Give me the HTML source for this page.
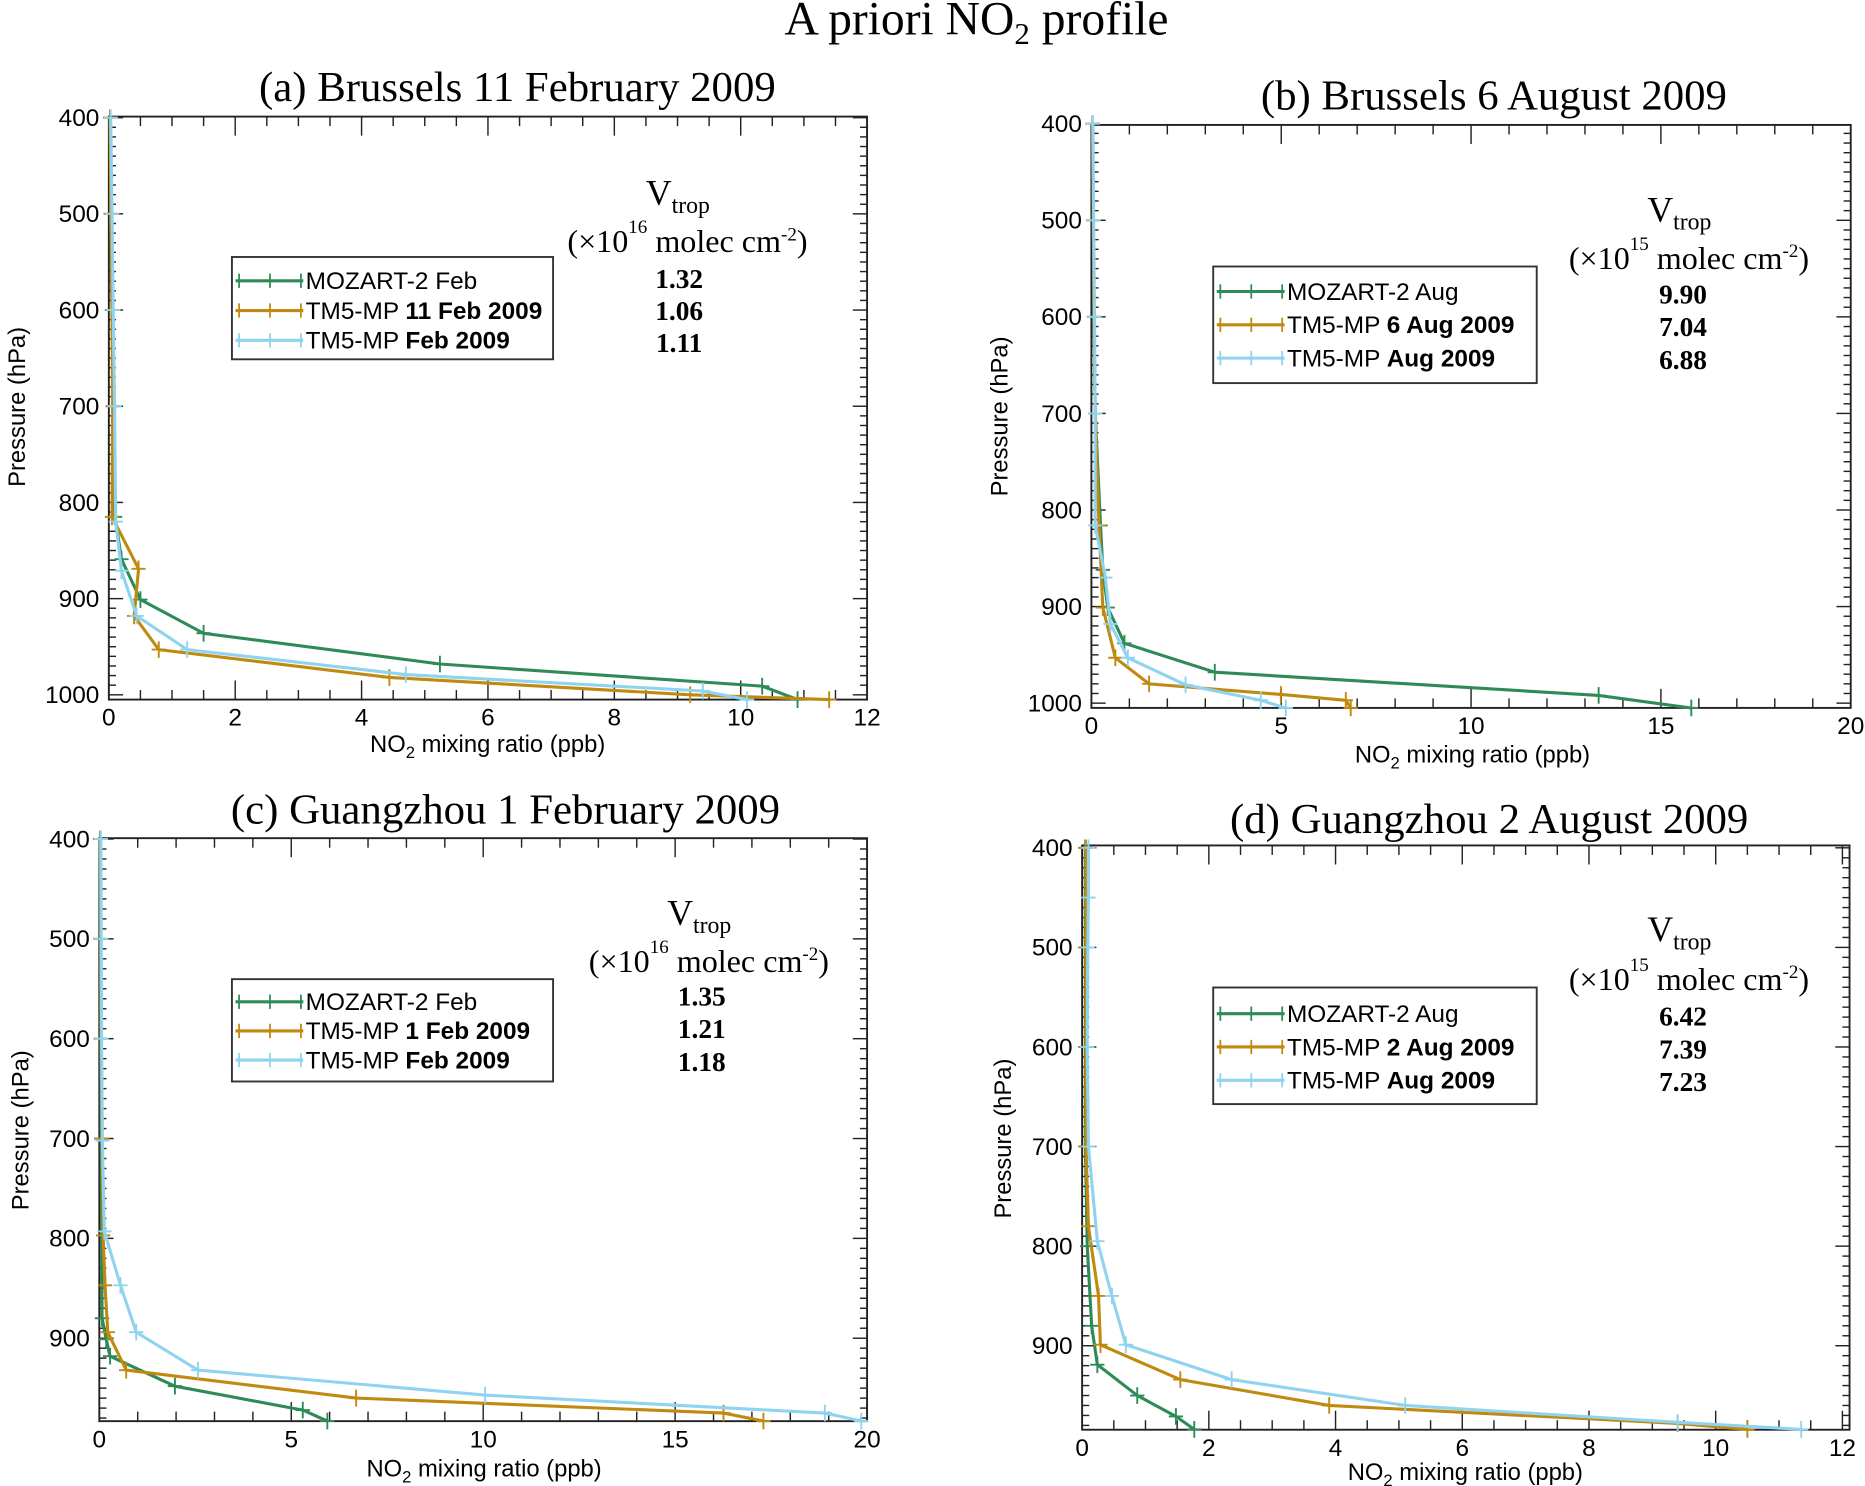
<!DOCTYPE html>
<html><head><meta charset="utf-8"><style>
html,body{margin:0;padding:0;background:#fff;}
svg{display:block;}
.sans{font-family:"Liberation Sans",Arial,sans-serif;}
.serif{font-family:"Liberation Serif","Times New Roman",serif;}
</style></head><body>
<svg id="fig" width="1865" height="1486" viewBox="0 0 1568 1249" preserveAspectRatio="none" xmlns="http://www.w3.org/2000/svg">
<text class="serif" x="821" y="29" font-size="40" text-anchor="middle">A priori NO<tspan font-size="26" dy="8">2</tspan><tspan dy="-8"> profile</tspan></text>
</svg>
<script>
// ---- data (x = NO2 ppb, p = pressure hPa) ----
const aGreenX=[0.02,0.03,0.05,0.07,0.1,0.2,0.5,1.5,5.24,10.34,10.9];
const aGreenP=[400,500,600,700,815,859,901,936,968,991,1005];
const aOrangeX=[0.02,0.03,0.05,0.06,0.05,0.47,0.4,0.79,4.44,9.2,11.4];
const aOrangeP=[400,500,600,700,815,869,918,953,982,1000,1005];
const aCyanX=[0.03,0.05,0.07,0.09,0.11,0.2,0.44,1.24,4.7,9.4,10.1];
const aCyanP=[400,500,600,700,820,871,918,953,979,996,1005];

const bGreenX=[0.03,0.05,0.07,0.1,0.24,0.3,0.43,0.87,3.25,13.36,15.8];
const bGreenP=[400,500,600,700,816,862,901,938,968,992,1005];
const bOrangeX=[0.03,0.05,0.07,0.1,0.2,0.3,0.63,1.52,4.99,6.7,6.83];
const bOrangeP=[400,500,600,700,816,901,953,980,991,997,1005];
const bCyanX=[0.04,0.06,0.08,0.1,0.1,0.37,0.5,0.96,2.48,4.46,5.12];
const bCyanP=[400,500,600,700,816,870,918,953,981,997,1005];

const cGreenX=[0.02,0.03,0.04,0.05,0.07,0.18,0.28,1.97,5.3,5.94];
const cGreenP=[400,500,600,700,880,901,918,948,972,983];
const cOrangeX=[0.03,0.04,0.05,0.07,0.1,0.15,0.22,0.7,6.69,16.26,17.3];
const cOrangeP=[400,500,600,700,797,847,894,932,960,975,983];
const cCyanX=[0.04,0.05,0.06,0.08,0.13,0.55,0.96,2.57,10.05,18.9,19.85];
const cCyanP=[400,500,600,702,793,847,894,932,957,975,983];

const dGreenX=[0.05,0.05,0.05,0.05,0.08,0.15,0.24,0.87,1.48,1.77];
const dGreenP=[400,500,600,700,800,880,919,950,971,984];
const dOrangeX=[0.06,0.06,0.06,0.06,0.1,0.26,0.29,1.55,3.9,9.4,10.5];
const dOrangeP=[400,500,600,700,780,850,899,934,960,978,984];
const dCyanX=[0.1,0.1,0.09,0.08,0.1,0.24,0.47,0.69,2.36,5.1,9.4,11.35];
const dCyanP=[400,450,500,600,700,795,850,899,934,960,977,984];

const xTicksAB=[0,2,4,6,8,10,12];
const xTicks20=[0,5,10,15,20];
const yTicks=[400,500,600,700,800,900,1000];

const legendA=["MOZART-2 Feb","11 Feb 2009","Feb 2009"];
const legendB=["MOZART-2 Aug","6 Aug 2009","Aug 2009"];
const legendC=["MOZART-2 Feb","1 Feb 2009","Feb 2009"];
const legendD=["MOZART-2 Aug","2 Aug 2009","Aug 2009"];
const vtropA=["1.32","1.06","1.11"];
const vtropB=["9.90","7.04","6.88"];
const vtropC=["1.35","1.21","1.18"];
const vtropD=["6.42","7.39","7.23"];

const GREEN="#2e8b57", ORANGE="#c0890f", CYAN="#8fd3ef";
const NS="http://www.w3.org/2000/svg";
const svg=document.getElementById('fig');
function mk(tag,attrs,parent){const e=document.createElementNS(NS,tag);for(const k in attrs)e.setAttribute(k,attrs[k]);(parent||svg).appendChild(e);return e;}

function panel(cfg){
  const g=mk('g',{});
  
  
  const X=v=>cfg.x0+(v-0)/cfg.xmax*(cfg.x1-cfg.x0);
  const Y=p=>cfg.y400+(p-400)/600*(cfg.y1000-cfg.y400);
  const t=mk('text',{x:cfg.tx,y:cfg.ty,'font-size':36,'text-anchor':'middle',class:'serif'},g);
  t.textContent=cfg.title;
  
  
  const box=mk('rect',{x:cfg.bl,y:cfg.bt,width:cfg.br-cfg.bl,height:cfg.bb-cfg.bt,fill:'none',stroke:'#222','stroke-width':1.6},g);
  
  
  for(let p=400;p<=cfg.pmax;p+=10){
    const y=Y(p); if(y<cfg.bt-0.5||y>cfg.bb+0.5)continue;
    const major=p%100===0; const L=major?12:6;
    mk('line',{x1:cfg.bl,x2:cfg.bl+L,y1:y,y2:y,stroke:'#222','stroke-width':1.2},g);
    mk('line',{x1:cfg.br,x2:cfg.br-L,y1:y,y2:y,stroke:'#222','stroke-width':1.2},g);
  }
  yTicks.forEach(p=>{
    const y=Y(p); if(y>cfg.bb+6)return;
    const tl=mk('text',{x:cfg.bl-8,y:y+7,'font-size':20.5,'text-anchor':'end',class:'sans'},g);
    tl.textContent=p;
    
    
  });
  for(let v=0;v<=cfg.xmax+1e-9;v+=cfg.xminor){
    const x=X(v); const major=cfg.xticks.some(t=>Math.abs(t-v)<1e-6); const L=major?16:8;
    mk('line',{x1:x,x2:x,y1:cfg.bb,y2:cfg.bb-L,stroke:'#222','stroke-width':1.2},g);
    mk('line',{x1:x,x2:x,y1:cfg.bt,y2:cfg.bt+L,stroke:'#222','stroke-width':1.2},g);
  }
  cfg.xticks.forEach(v=>{
    const tl=mk('text',{x:X(v),y:cfg.bb+22,'font-size':20.5,'text-anchor':'middle',class:'sans'},g);
    tl.textContent=v;
    
    
  });
  const xt=mk('text',{x:cfg.xlx,y:cfg.xly,'font-size':20,'text-anchor':'middle',class:'sans'},g);
  xt.innerHTML='NO<tspan font-size="14" dy="5">2</tspan><tspan dy="-5"> mixing ratio (ppb)</tspan>';
  
  
  const yt=mk('text',{x:0,y:0,'font-size':20,'text-anchor':'middle',class:'sans',transform:`translate(${cfg.ylx},${cfg.yly}) rotate(-90)`},g);
  yt.textContent='Pressure (hPa)';
  
  
  const series=[[cfg.g[0],cfg.g[1],GREEN,'mozart-line'],[cfg.o[0],cfg.o[1],ORANGE,'tm5-daily-line'],[cfg.c[0],cfg.c[1],CYAN,'tm5-monthly-line']];
  series.forEach(s=>{
    const pts=s[0].map((v,i)=>X(v).toFixed(1)+','+Y(s[1][i]).toFixed(1)).join(' ');
    const pl=mk('polyline',{points:pts,fill:'none',stroke:s[2],'stroke-width':2.6,'stroke-linejoin':'round'},g);
    
    
    s[0].forEach((v,i)=>{
      const x=X(v),y=Y(s[1][i]);
      mk('path',{d:`M${x-6},${y}H${x+6}M${x},${y-7}V${y+7}`,stroke:s[2],'stroke-width':1.6},g);
    });
  });
  const L=cfg.leg;
  const lb=mk('rect',{x:L[0],y:L[1],width:L[2]-L[0],height:L[3]-L[1],fill:'#fff',stroke:'#333','stroke-width':1.6},g);
  
  
  const cols=[GREEN,ORANGE,CYAN];
  cfg.legText.forEach((txt,i)=>{
    const y=L[1]+cfg.legStart+i*cfg.legStep;
    mk('line',{x1:L[0]+3,x2:L[0]+60,y1:y,y2:y,stroke:cols[i],'stroke-width':2.6},g);
    [L[0]+6,L[0]+32,L[0]+58].forEach(xx=>mk('line',{x1:xx,x2:xx,y1:y-6,y2:y+6,stroke:cols[i],'stroke-width':1.5},g));
    const te=mk('text',{x:L[0]+62,y:y+7,'font-size':20.5,class:'sans'},g);
    if(i===0){te.textContent=txt;}
    else{te.innerHTML='TM5-MP <tspan font-weight="bold">'+txt+'</tspan>';}
    
    
  });
  const V=cfg.vt;
  const v1=mk('text',{x:V[0],y:V[1],'font-size':30,class:'serif'},g);
  v1.innerHTML='V<tspan font-size="20" dy="7">trop</tspan>';
  
  
  const v2=mk('text',{x:V[2],y:V[3],'font-size':27,class:'serif','text-anchor':'middle'},g);
  v2.innerHTML='(×10<tspan font-size="16" dy="-16">'+cfg.exp+'</tspan><tspan dy="16">  molec cm</tspan><tspan font-size="16" dy="-10">-2</tspan><tspan dy="10">)</tspan>';
  
  
  cfg.vals.forEach((val,i)=>{
    const tv=mk('text',{x:V[4],y:V[5]+i*cfg.valStep,'font-size':23,'font-weight':'bold',class:'serif','text-anchor':'middle'},g);
    tv.textContent=val;
    
    
  });
}

panel({name:'panel-a-brussels-feb',title:'(a) Brussels 11 February 2009',tx:435,ty:85,
  bl:91.5,br:729,bt:98,bb:588,x0:91.5,x1:729,xmax:12,xminor:0.5,xticks:xTicksAB,y400:98.9,y1000:584,pmax:1010,
  xlx:410,xly:632,ylx:21,yly:342,g:[aGreenX,aGreenP],o:[aOrangeX,aOrangeP],c:[aCyanX,aCyanP],
  leg:[195,216,465,302],legStart:20,legStep:25,legText:legendA,
  vt:[543,172,578,212,571,242],exp:'16',vals:vtropA,valStep:27});
panel({name:'panel-b-brussels-aug',title:'(b) Brussels 6 August 2009',tx:1256,ty:92,
  bl:917.6,br:1556,bt:105,bb:595,x0:917.6,x1:1556,xmax:20,xminor:1,xticks:xTicks20,y400:104,y1000:591,pmax:1010,
  xlx:1238,xly:641,ylx:847,yly:350,g:[bGreenX,bGreenP],o:[bOrangeX,bOrangeP],c:[bCyanX,bCyanP],
  leg:[1020,224,1292,322],legStart:21,legStep:28,legText:legendB,
  vt:[1385,186,1420,226,1415,255],exp:'15',vals:vtropB,valStep:27.5});
panel({name:'panel-c-guangzhou-feb',title:'(c) Guangzhou 1 February 2009',tx:425,ty:692,
  bl:83.5,br:729,bt:704.5,bb:1194.5,x0:83.5,x1:729,xmax:20,xminor:1,xticks:xTicks20,y400:705.2,y1000:1208.7,pmax:990,
  xlx:407,xly:1241,ylx:24,yly:950,g:[cGreenX,cGreenP],o:[cOrangeX,cOrangeP],c:[cCyanX,cCyanP],
  leg:[195,823,465,909],legStart:19,legStep:24.5,legText:legendC,
  vt:[561,777,596,817,590,845],exp:'16',vals:vtropC,valStep:27.5});
panel({name:'panel-d-guangzhou-aug',title:'(d) Guangzhou 2 August 2009',tx:1252,ty:700,
  bl:909.8,br:1555,bt:710.6,bb:1201.7,x0:909.8,x1:1549,xmax:12,xminor:0.5,xticks:xTicksAB,y400:712.6,y1000:1214.8,pmax:990,
  xlx:1232,xly:1244,ylx:850,yly:957,g:[dGreenX,dGreenP],o:[dOrangeX,dOrangeP],c:[dCyanX,dCyanP],
  leg:[1020,830,1292,928],legStart:22,legStep:28,legText:legendD,
  vt:[1385,791,1420,832,1415,862],exp:'15',vals:vtropD,valStep:27.5});
</script>
</body></html>
